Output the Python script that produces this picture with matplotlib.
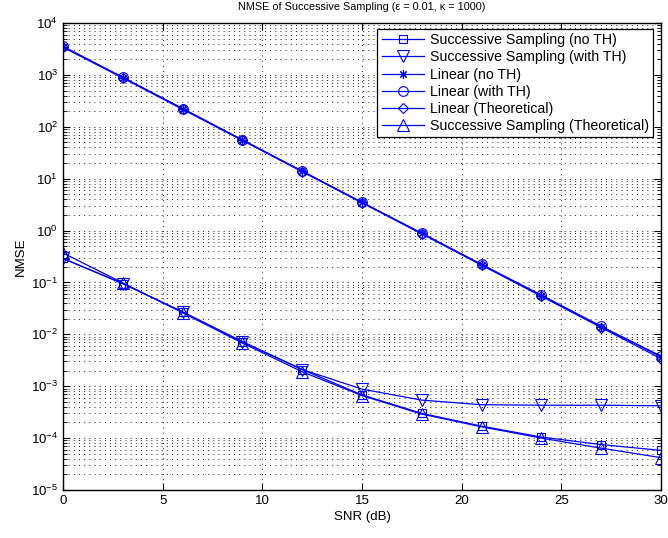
import matplotlib
matplotlib.use("Agg")
import matplotlib.pyplot as plt
from matplotlib.ticker import LogLocator, NullFormatter, MultipleLocator

plt.rcParams['font.family'] = ['Liberation Sans', 'DejaVu Sans']
plt.rcParams['mathtext.fontset'] = 'custom'
plt.rcParams['mathtext.rm'] = 'Liberation Sans'
plt.rcParams['mathtext.it'] = 'Liberation Sans:italic'

snr_db = [0, 3, 6, 9, 12, 15, 18, 21, 24, 27, 30]

succ_no_th = [0.29, 0.095, 0.027, 0.0072, 0.0021, 0.00068, 0.00030, 0.00017, 0.000105, 0.000075, 0.000058]
succ_with_th = [0.29, 0.095, 0.027, 0.0072, 0.0021, 0.00088, 0.00054, 0.00044, 0.00043, 0.00043, 0.00042]
lin_no_th = [3500, 890, 222, 55.5, 13.9, 3.48, 0.88, 0.22, 0.056, 0.0140, 0.0037]
lin_with_th = [3550, 900, 225, 56, 14.0, 3.5, 0.89, 0.223, 0.057, 0.0143, 0.0038]
lin_theory = [3400, 870, 217, 54.5, 13.6, 3.42, 0.86, 0.215, 0.054, 0.0135, 0.0034]
succ_theory = [0.37, 0.098, 0.026, 0.0068, 0.0019, 0.00066, 0.00029, 0.000165, 0.000100, 0.000064, 0.000042]

labels = ['Successive Sampling (no TH)', 'Successive Sampling (with TH)',
          'Linear (no TH)', 'Linear (with TH)', 'Linear (Theoretical)',
          'Successive Sampling (Theoretical)']
series = [succ_no_th, succ_with_th, lin_no_th, lin_with_th, lin_theory, succ_theory]
markers = ['s', 'v', (8, 2, 0), 'o', 'D', '^']
msizes = [6, 8.5, 6, 7, 5.5, 8.5]

fig = plt.figure(figsize=(6.68, 5.38), dpi=100)
ax = fig.add_axes([63/668, 1-490/538, 598/668, 467/538])

blue = '#0000FF'
for y, lab, m, ms in zip(series, labels, markers, msizes):
    ax.semilogy(snr_db, y, color=blue, lw=0.9, marker=m, ms=ms,
                mfc='none', mec=blue, mew=0.8, label=lab)

ax.set_xlim(0, 30)
ax.set_ylim(1e-5, 1e4)
ax.xaxis.set_major_locator(MultipleLocator(5))
ax.yaxis.set_major_locator(LogLocator(base=10, numticks=20))
ax.yaxis.set_minor_locator(LogLocator(base=10, subs=range(2, 10), numticks=20))
ax.yaxis.set_minor_formatter(NullFormatter())

gstyle = dict(color='black', linestyle=(0, (1.2, 5)), linewidth=0.6)
ax.grid(True, which='major', axis='both', **gstyle)
ax.grid(True, which='minor', axis='y', **gstyle)

ax.tick_params(which='both', direction='in', top=True, right=True, labelsize=9.5)
ax.tick_params(which='major', length=5, width=0.8)
ax.tick_params(which='minor', length=3, width=0.6, labelleft=False, labelbottom=False)
for s in ax.spines.values():
    s.set_linewidth(1.0)
    s.set_color('black')

ax.set_xlabel('SNR (dB)', fontsize=9.5, labelpad=3)
ax.set_ylabel('NMSE', fontsize=9.5, labelpad=3)
ax.set_title('NMSE of Successive Sampling (ε = 0.01, κ = 1000)', fontsize=7.8, pad=9)

leg = ax.legend(loc='upper right', bbox_to_anchor=(0.9866, 0.987), borderaxespad=0,
                fontsize=10.2, handlelength=3.0, handletextpad=0.4,
                labelspacing=0.22, borderpad=0.3, fancybox=False, framealpha=1,
                edgecolor='black')
leg.get_frame().set_linewidth(0.9)

fig.savefig('out.png', dpi=100)
